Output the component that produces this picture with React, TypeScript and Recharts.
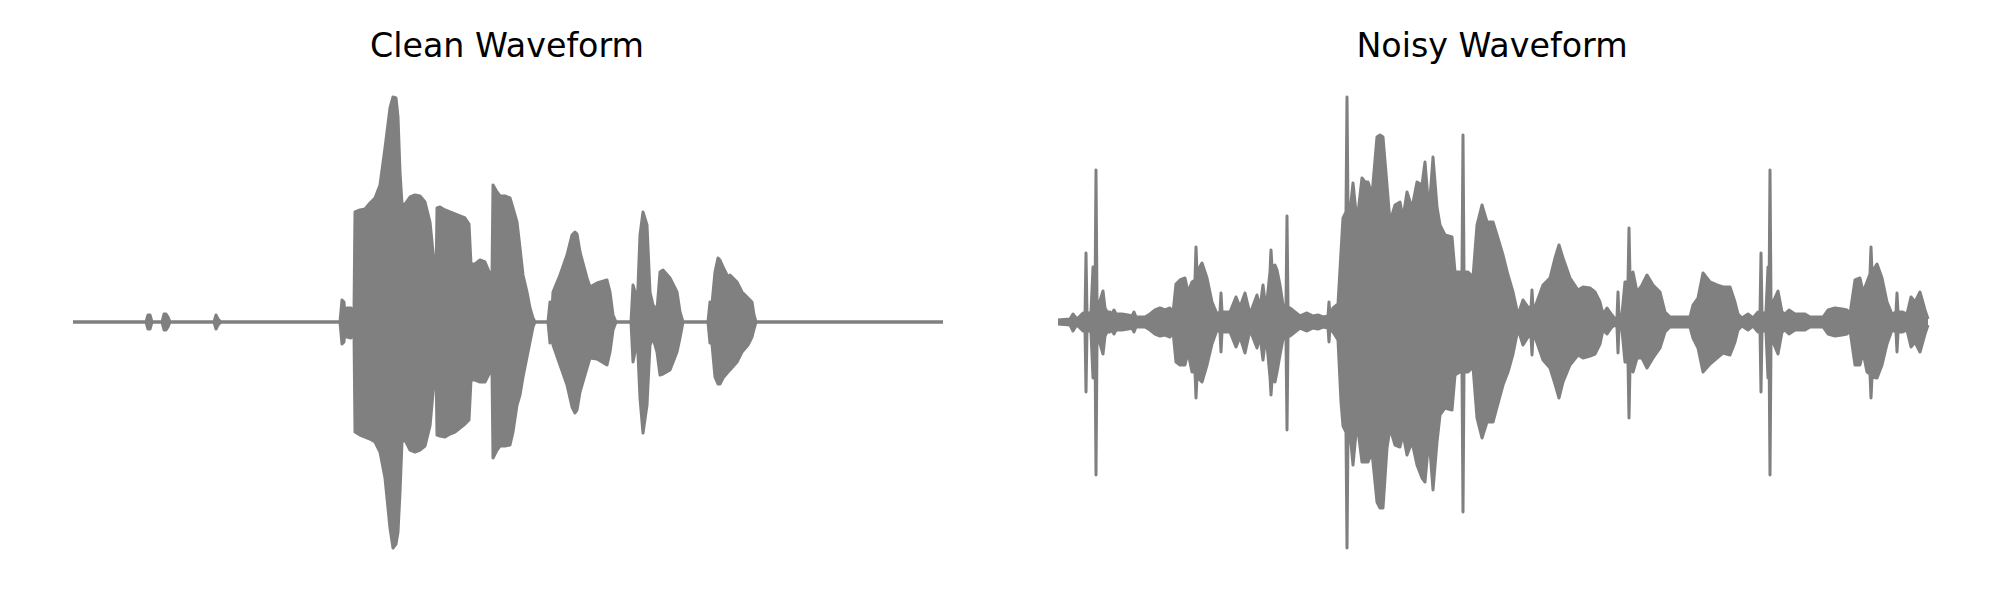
import React from "react";
import { AreaChart, Area, XAxis, YAxis } from "recharts";

// waveform envelopes, time in ms, amplitude in raw units (peak ~226)
const cleanTime = [
  0, 365, 375, 385, 395, 445, 455, 465, 475, 485, 705, 715, 725, 740,
  1335, 1345, 1355, 1360, 1370, 1390, 1400, 1405, 1410, 1435, 1460, 1485, 1510, 1535, 1560, 1585,
  1600, 1615, 1625, 1635, 1645, 1660, 1685, 1710, 1735, 1760, 1785, 1805, 1815, 1820, 1835, 1860,
  1885, 1910, 1935, 1960, 1980, 1990, 2010, 2035, 2060, 2085, 2095, 2100, 2120, 2135, 2160, 2185,
  2200, 2220, 2235, 2250, 2270, 2285, 2300, 2310, 2375, 2385, 2395, 2400, 2435, 2470, 2495, 2510,
  2520, 2535, 2570, 2585, 2620, 2670, 2685, 2700, 2715, 2790, 2800, 2810, 2820, 2835, 2850, 2870,
  2885, 2900, 2920, 2935, 2950, 2985, 3020, 3035, 3050, 3175, 3185, 3195, 3210, 3225, 3235, 3250,
  3275, 3285, 3320, 3345, 3375, 3395, 3405, 3415, 4350,
];
const cleanUpper = [
  0, 0, 7, 7, 0, 0, 8, 8, 5, 0, 0, 7, 3, 0,
  0, 22, 20, 8, 14, 14, 8, 10, 110, 112, 113, 119, 124, 137, 174, 214,
  225, 224, 205, 150, 118, 118, 125, 127, 126, 120, 100, 60, 40, 114, 115, 112,
  110, 108, 106, 104, 98, 58, 58, 62, 60, 48, 45, 137, 130, 126, 126, 124,
  114, 100, 74, 47, 30, 14, 4, 0, 0, 20, 12, 30, 47, 67, 87, 90,
  88, 70, 44, 35, 39, 42, 30, 7, 0, 0, 37, 30, 10, 87, 110, 97,
  30, 17, 12, 50, 52, 44, 30, 10, 0, 0, 20, 18, 50, 64, 62, 55,
  45, 47, 40, 30, 24, 20, 7, 0, 0,
];
const cleanLower = [
  0, 0, -7, -7, 0, 0, -8, -8, -5, 0, 0, -7, -3, 0,
  0, -22, -20, -8, -15, -16, -8, -10, -110, -113, -115, -117, -120, -130, -156, -206,
  -226, -222, -210, -170, -120, -118, -128, -130, -128, -124, -104, -60, -42, -113, -114, -115,
  -112, -110, -106, -102, -98, -58, -58, -60, -60, -50, -48, -136, -128, -124, -124, -123,
  -110, -83, -73, -55, -35, -20, -5, 0, 0, -21, -12, -23, -43, -63, -85, -91,
  -88, -70, -46, -36, -37, -43, -30, -8, 0, 0, -40, -30, -10, -76, -111, -83,
  -23, -16, -30, -53, -52, -48, -30, -16, 0, 0, -21, -22, -55, -62, -62, -56,
  -50, -48, -40, -30, -23, -15, -7, 0, 0,
];

const noisyTime = [
  0, 60, 75, 90, 100, 115, 125, 135, 140, 145, 165, 175, 180, 185, 190, 195,
  205, 225, 235, 245, 260, 270, 280, 290, 320, 350, 370, 380, 390, 435, 460, 485,
  510, 535, 560, 575, 590, 610, 635, 650, 670, 685, 690, 695, 720, 745, 770, 795,
  810, 815, 820, 835, 860, 890, 910, 935, 960, 995, 1010, 1025, 1040, 1060, 1065, 1070,
  1085, 1095, 1110, 1125, 1140, 1145, 1150, 1160, 1185, 1210, 1245, 1275, 1300, 1325, 1350, 1355,
  1360, 1375, 1400, 1415, 1425, 1440, 1445, 1450, 1460, 1475, 1495, 1520, 1535, 1550, 1570, 1595,
  1610, 1625, 1645, 1660, 1685, 1710, 1725, 1745, 1770, 1795, 1820, 1835, 1855, 1875, 1895, 1910,
  1935, 1970, 1985, 2010, 2020, 2025, 2030, 2050, 2075, 2095, 2120, 2145, 2175, 2195, 2225, 2250,
  2275, 2300, 2325, 2350, 2365, 2370, 2375, 2385, 2425, 2460, 2485, 2505, 2525, 2560, 2600, 2625,
  2660, 2685, 2710, 2725, 2745, 2770, 2785, 2795, 2800, 2805, 2820, 2835, 2850, 2855, 2860, 2875,
  2895, 2920, 2945, 2975, 3010, 3035, 3060, 3110, 3160, 3175, 3200, 3225, 3260, 3295, 3325, 3360,
  3385, 3400, 3420, 3450, 3475, 3500, 3510, 3515, 3520, 3540, 3550, 3555, 3560, 3565, 3575, 3600,
  3620, 3635, 3655, 3685, 3735, 3760, 3825, 3850, 3885, 3920, 3945, 3960, 3985, 4010, 4025, 4045,
  4060, 4065, 4070, 4095, 4120, 4145, 4170, 4190, 4195, 4200, 4220, 4245, 4265, 4285, 4310, 4335,
  4350,
];
const noisyUpper = [
  2, 3, 8, 4, 4, 7, 9, 6, 69, 8, 10, 55, 12, 20, 152, 20,
  18, 31, 14, 10, 10, 8, 12, 8, 8, 7, 6, 10, 5, 5, 8, 12,
  14, 12, 14, 9, 38, 42, 44, 30, 40, 42, 75, 50, 59, 44, 20, 8,
  10, 29, 10, 10, 10, 25, 15, 29, 8, 27, 14, 37, 12, 50, 72, 55,
  57, 52, 37, 17, 16, 106, 15, 14, 10, 6, 9, 6, 7, 5, 6, 20,
  6, 14, 18, 70, 104, 110, 225, 110, 110, 139, 100, 144, 140, 140, 127, 185,
  187, 185, 137, 100, 117, 120, 104, 130, 114, 140, 137, 160, 110, 165, 115, 97,
  87, 85, 50, 50, 50, 187, 50, 50, 45, 97, 117, 100, 100, 87, 67, 47,
  30, 7, 22, 15, 14, 32, 14, 15, 37, 44, 64, 77, 64, 44, 32, 35,
  34, 30, 20, 8, 14, 7, 3, 5, 30, 6, 8, 40, 40, 94, 45, 50,
  30, 37, 47, 37, 30, 10, 5, 5, 5, 17, 24, 49, 40, 37, 35, 35,
  20, 8, 4, 8, 4, 10, 8, 69, 8, 10, 55, 20, 152, 20, 20, 31,
  10, 8, 12, 8, 8, 5, 5, 12, 14, 13, 12, 8, 42, 44, 30, 40,
  48, 75, 50, 58, 44, 20, 8, 10, 29, 10, 10, 8, 25, 20, 30, 12,
  3,
];
const noisyLower = [
  -2, -3, -9, -4, -4, -7, -9, -6, -70, -8, -10, -56, -12, -20, -153, -20,
  -18, -32, -14, -10, -10, -8, -12, -8, -8, -7, -6, -10, -5, -5, -8, -12,
  -14, -13, -15, -9, -40, -43, -43, -30, -50, -50, -76, -55, -60, -43, -22, -8,
  -10, -30, -10, -10, -10, -25, -15, -31, -8, -26, -14, -38, -12, -55, -73, -58,
  -60, -50, -33, -17, -16, -108, -15, -14, -10, -6, -9, -6, -7, -5, -6, -20,
  -6, -10, -18, -80, -104, -110, -226, -110, -110, -143, -100, -140, -140, -140, -130, -180,
  -186, -186, -126, -106, -123, -125, -112, -133, -120, -143, -156, -160, -115, -168, -120, -93,
  -86, -88, -53, -50, -50, -190, -50, -50, -45, -96, -116, -100, -100, -85, -63, -50,
  -32, -7, -23, -15, -14, -33, -14, -15, -38, -46, -62, -76, -60, -43, -33, -36,
  -34, -32, -22, -8, -12, -5, -3, -5, -31, -6, -8, -40, -40, -96, -45, -50,
  -36, -36, -46, -36, -26, -10, -5, -5, -5, -16, -26, -50, -42, -36, -31, -33,
  -20, -8, -4, -8, -4, -10, -8, -70, -8, -10, -56, -20, -153, -20, -20, -32,
  -10, -8, -12, -8, -8, -5, -5, -12, -14, -13, -12, -8, -43, -43, -30, -50,
  -52, -76, -55, -56, -43, -22, -8, -10, -30, -10, -10, -8, -25, -20, -30, -12,
  -3,
];

const titles = ["Clean Waveform", "Noisy Waveform"];

const GRAY = "#808080";

function toRows(time: number[], upper: number[], lower: number[]) {
  return time.map((t, i) => ({ t, env: [lower[i], upper[i]] }));
}

function Waveform({ data, left }: { data: { t: number; env: number[] }[]; left: number }) {
  return (
    <div style={{ position: "absolute", left, top: 74 }}>
      <AreaChart width={890} height={496} data={data} margin={{ top: 10, right: 10, bottom: 10, left: 10 }}>
        <XAxis type="number" dataKey="t" domain={[0, 4350]} hide />
        <YAxis type="number" domain={[-238, 238]} hide allowDataOverflow />
        <Area
          type="linear"
          dataKey="env"
          stroke={GRAY}
          strokeWidth={3}
          strokeLinejoin="round"
          fill={GRAY}
          fillOpacity={1}
          dot={false}
          activeDot={false}
          isAnimationActive={false}
        />
      </AreaChart>
    </div>
  );
}

export default function App() {
  const clean = toRows(cleanTime, cleanUpper, cleanLower);
  const noisy = toRows(noisyTime, noisyUpper, noisyLower);
  return (
    <div style={{ position: "absolute", left: 0, top: 0, width: 2000, height: 600, background: "#fff" }}>
      <svg width={2000} height={100} style={{ position: "absolute", left: 0, top: 0 }}>
        <text x={507} y={57} textAnchor="middle" fontFamily="DejaVu Sans" fontSize={33.3} fill="#000">
          {titles[0]}
        </text>
        <text x={1492} y={57} textAnchor="middle" fontFamily="DejaVu Sans" fontSize={33.3} fill="#000">
          {titles[1]}
        </text>
      </svg>
      <Waveform data={clean} left={63} />
      <Waveform data={noisy} left={1048} />
    </div>
  );
}
